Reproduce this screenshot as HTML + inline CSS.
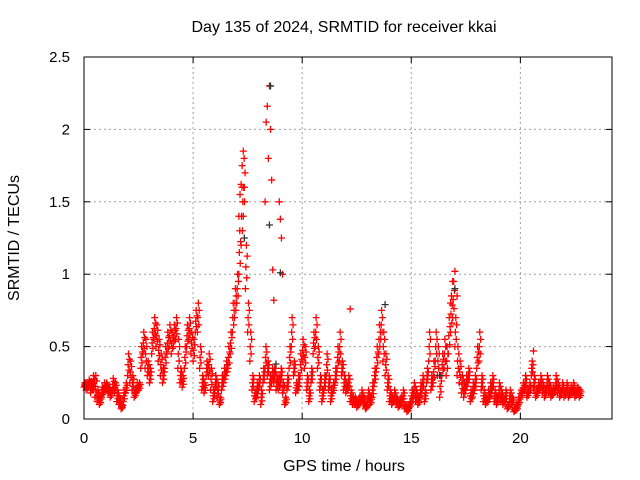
<!DOCTYPE html>
<html><head><meta charset="utf-8"><style>
body{margin:0;background:#fff;}
svg{display:block;font-family:"Liberation Sans",sans-serif;}
</style></head><body>
<svg width="640" height="480" viewBox="0 0 640 480" id="c">
<text x="344" y="32" font-size="16" text-anchor="middle">Day 135 of 2024, SRMTID for receiver kkai</text>
<text x="344" y="471" font-size="16" text-anchor="middle">GPS time / hours</text>
<text transform="translate(19,238) rotate(-90)" font-size="16" text-anchor="middle">SRMTID / TECUs</text>
<g id="grid"></g><g id="ticks"></g><g id="marks"></g>
<rect x="84" y="57" width="528" height="362" fill="none" stroke="#000" stroke-width="1"/>
</svg>
<script>
const xTicks=[0,5,10,15,20];
const yTicks=[0,0.5,1,1.5,2,2.5];
const yTickLabels=["0","0.5","1","1.5","2","2.5"];
const tStart=0, tStep=0.1;
const tec=[0.25,0.25,0.27,0.26,0.3,0.3,0.2,0.15,0.22,0.25,
0.25,0.22,0.2,0.28,0.25,0.2,0.15,0.1,0.2,0.25,
0.45,0.4,0.3,0.2,0.25,0.25,0.5,0.6,0.55,0.4,
0.35,0.6,0.7,0.65,0.55,0.45,0.35,0.5,0.6,0.65,
0.6,0.65,0.7,0.55,0.35,0.3,0.5,0.65,0.7,0.6,
0.55,0.75,0.8,0.5,0.3,0.25,0.4,0.45,0.35,0.2,
0.3,0.25,0.15,0.3,0.35,0.4,0.5,0.6,0.8,0.9,
1.0,1.3,1.6,1.8,1.2,0.8,0.6,0.3,0.2,0.25,
0.3,0.2,0.35,0.5,0.4,0.3,0.35,0.35,0.3,0.3,
0.35,0.25,0.15,0.3,0.5,0.7,0.4,0.25,0.3,0.45,
0.55,0.5,0.3,0.2,0.35,0.6,0.7,0.5,0.3,0.2,
0.3,0.45,0.3,0.2,0.25,0.35,0.5,0.6,0.4,0.3,
0.25,0.3,0.2,0.15,0.15,0.12,0.15,0.2,0.15,0.1,
0.2,0.15,0.25,0.35,0.5,0.65,0.75,0.6,0.45,0.3,
0.2,0.15,0.2,0.15,0.12,0.15,0.2,0.1,0.08,0.12,
0.2,0.25,0.2,0.15,0.25,0.3,0.2,0.35,0.6,0.3,
0.4,0.6,0.5,0.3,0.45,0.55,0.5,0.7,0.85,0.95,
0.7,0.5,0.4,0.3,0.25,0.3,0.35,0.2,0.25,0.3,
0.5,0.6,0.3,0.2,0.15,0.2,0.25,0.3,0.2,0.15,
0.25,0.2,0.15,0.2,0.1,0.2,0.15,0.08,0.1,0.15,
0.2,0.25,0.3,0.2,0.25,0.4,0.3,0.2,0.25,0.3,
0.25,0.2,0.3,0.25,0.2,0.22,0.3,0.25,0.2,0.25,
0.2,0.25,0.2,0.22,0.25,0.2,0.22,0.2];
const tecLow=[0.22,0.2,0.22,0.18,0.2,0.15,0.12,0.1,0.15,0.18,
0.2,0.18,0.15,0.2,0.18,0.12,0.1,0.07,0.12,0.18,
0.3,0.25,0.2,0.15,0.18,0.2,0.35,0.45,0.35,0.3,
0.25,0.45,0.55,0.5,0.4,0.3,0.25,0.35,0.45,0.5,
0.45,0.5,0.55,0.35,0.25,0.22,0.35,0.5,0.55,0.45,
0.4,0.6,0.6,0.35,0.2,0.18,0.3,0.3,0.2,0.12,
0.2,0.15,0.1,0.2,0.25,0.3,0.35,0.45,0.6,0.7,
0.8,1.0,1.2,1.4,0.9,0.6,0.4,0.2,0.12,0.15,
0.2,0.1,0.25,0.35,0.3,0.2,0.25,0.25,0.2,0.2,
0.25,0.18,0.1,0.2,0.35,0.5,0.3,0.18,0.2,0.3,
0.4,0.35,0.2,0.12,0.25,0.45,0.5,0.35,0.2,0.12,
0.2,0.3,0.2,0.12,0.18,0.25,0.35,0.4,0.3,0.2,
0.18,0.2,0.12,0.1,0.1,0.08,0.1,0.12,0.1,0.07,
0.12,0.1,0.15,0.25,0.35,0.45,0.55,0.4,0.3,0.2,
0.12,0.1,0.12,0.1,0.08,0.1,0.12,0.07,0.05,0.08,
0.12,0.15,0.12,0.1,0.15,0.2,0.12,0.25,0.4,0.2,
0.25,0.4,0.3,0.15,0.3,0.35,0.3,0.45,0.6,0.7,
0.5,0.3,0.25,0.18,0.15,0.2,0.25,0.12,0.15,0.2,
0.35,0.4,0.2,0.12,0.1,0.12,0.15,0.2,0.12,0.1,
0.15,0.12,0.1,0.12,0.07,0.12,0.1,0.05,0.06,0.1,
0.15,0.18,0.2,0.15,0.18,0.3,0.2,0.15,0.18,0.2,
0.18,0.15,0.2,0.18,0.15,0.17,0.2,0.18,0.15,0.18,
0.15,0.18,0.15,0.17,0.18,0.15,0.17,0.15];
const spikeX=[7.1,7.15,7.2,7.25,7.3,7.35,8.3,8.35,8.4,8.45,8.5,8.55,8.6,8.65,8.7,8.95,9.0,9.05,9.1,16.8,16.9,17.0,17.1,12.2,20.6];
const spikeY=[1.4,1.55,1.62,1.75,1.85,1.6,1.5,2.05,2.16,1.8,2.3,2.0,1.65,1.03,0.82,1.5,1.38,1.25,1.0,0.8,0.95,1.02,0.85,0.76,0.47];
const blackX=[8.55,8.5,9.0,13.8,16.3,17.0,7.35,8.8];
const blackY=[2.3,1.34,1.01,0.79,0.3,0.9,1.25,0.38];
const L=84,R=612,T=57,B=419,xMax=24.2,yMax=2.5;
const sx=v=>L+v/xMax*(R-L), sy=v=>B-v/yMax*(B-T);
const NS="http://www.w3.org/2000/svg";
function mk(tag,at,parent){const e=document.createElementNS(NS,tag);for(const k in at)e.setAttribute(k,at[k]);document.getElementById(parent).appendChild(e);return e;}
xTicks.forEach(t=>{const x=sx(t);
 if(t>0){const g=mk('line',{x1:x,x2:x,y1:T,y2:B,stroke:'#a0a0a0','stroke-dasharray':'2,3'},'grid');}
 const k=mk('line',{x1:x,x2:x,y1:B,y2:B-6,stroke:'#000'},'ticks');
 const k2=mk('line',{x1:x,x2:x,y1:T,y2:T+6,stroke:'#000'},'ticks');
 const l=mk('text',{x:x,y:B+24,'font-size':15,'text-anchor':'middle'},'ticks');l.textContent=t;});
yTicks.forEach((t,i)=>{const y=sy(t);
 if(t>0&&t<yMax){const g=mk('line',{x1:L,x2:R,y1:y,y2:y,stroke:'#a0a0a0','stroke-dasharray':'2,3'},'grid');}
 const k=mk('line',{x1:L,x2:L+6,y1:y,y2:y,stroke:'#000'},'ticks');
 const k2=mk('line',{x1:R,x2:R-6,y1:y,y2:y,stroke:'#000'},'ticks');
 const l=mk('text',{x:L-14,y:y+5,'font-size':15,'text-anchor':'end'},'ticks');l.textContent=yTickLabels[i];});
function plus(x,y,col){const p=mk('path',{d:`M${x-3.5},${y}h7M${x},${y-3.5}v7`,stroke:col,'stroke-width':1.3,fill:'none'},'marks');}
const fr=[0,0.25,0.5,0.75,1], dx=[0,0.06,0.02,0.08,0.04];
tec.forEach((v,i)=>{const t=tStart+i*tStep;const lo=tecLow[i];
 fr.forEach((f,j)=>plus(sx(t+dx[j]),sy(lo+(v-lo)*f),'#f00'));});
spikeX.forEach((x,i)=>plus(sx(x),sy(spikeY[i]),'#f00'));
blackX.forEach((x,i)=>plus(sx(x),sy(blackY[i]),'#333'));
</script>
</body></html>
